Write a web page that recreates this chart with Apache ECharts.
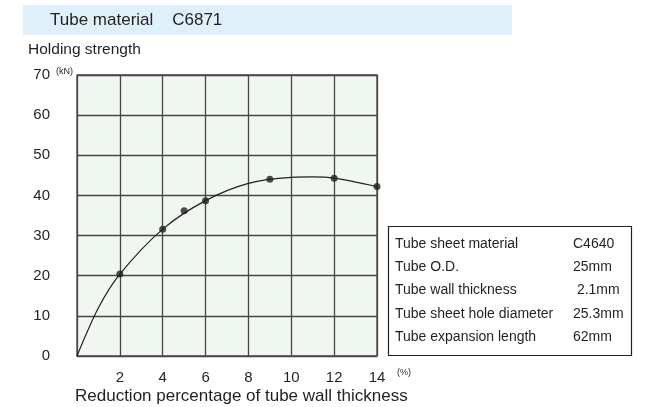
<!DOCTYPE html>
<html><head><meta charset="utf-8">
<script src="https://cdn.jsdelivr.net/npm/echarts@6/dist/echarts.min.js"></script>
<style>html,body{margin:0;padding:0;background:#fff}#c{width:650px;height:407px}</style>
</head><body><div id="c"></div>
<script>
const xTicks = [0, 2, 4, 6, 8, 10, 12, 14];
const yTicks = [0, 10, 20, 30, 40, 50, 60, 70];
const measured = [[2, 20.4], [4, 31.6], [5, 36.2], [6, 38.7], [9, 44.0], [12, 44.3], [14, 42.2]];
const curve = [[0, 0], [1, 12.0], [2, 20.4], [4, 31.6], [6, 38.7], [8, 43.0], [10, 44.5], [11, 44.6], [12, 44.3], [14, 42.2]];
const tableLabels = ['Tube sheet material', 'Tube O.D.', 'Tube wall thickness', 'Tube sheet hole diameter', 'Tube expansion length'];
const tableValues = ['C4640', '25mm', ' 2.1mm', '25.3mm', '62mm'];

const F = '"Liberation Sans", Arial, Helvetica, sans-serif';
const C = '#231f20';
const chart = echarts.init(document.getElementById('c'));
const graphics = [
  {type:'rect', shape:{x:23, y:5, width:489, height:30}, style:{fill:'#dff0fa'}, z:0},
  {type:'text', x:50, y:20, style:{text:'Tube material    C6871', font:'17px '+F, fill:C, textVerticalAlign:'middle'}},
  {type:'text', x:28, y:50, style:{text:'Holding strength', font:'15.5px '+F, fill:C, textVerticalAlign:'middle'}},
  {type:'text', x:56, y:72, style:{text:'(kN)', font:'9px '+F, fill:C, textVerticalAlign:'middle'}},
  {type:'text', x:397, y:373, style:{text:'(%)', font:'9px '+F, fill:C, textVerticalAlign:'middle'}},
  {type:'text', x:75, y:396, style:{text:'Reduction percentage of tube wall thickness', font:'17px '+F, fill:C, textVerticalAlign:'middle'}},
  {type:'rect', shape:{x:388.5, y:226.5, width:243, height:129}, style:{fill:'#fff', stroke:C, lineWidth:1.2}, z:10}
];
tableLabels.forEach((t, i) => {
  graphics.push({type:'text', x:395, y:244 + i*23.3, z:11, style:{text:t, font:'14px '+F, fill:C, textVerticalAlign:'middle'}});
  graphics.push({type:'text', x:573, y:244 + i*23.3, z:11, style:{text:tableValues[i], font:'14px '+F, fill:C, textVerticalAlign:'middle'}});
});

chart.setOption({
  animation:false,
  grid:{left:77, right:273, top:75, bottom:51, show:true, backgroundColor:'#eff7f0', borderColor:'#4a4546', borderWidth:1.3},
  xAxis:{type:'value', min:0, max:14, interval:2,
    axisLine:{show:false}, axisTick:{show:false},
    splitLine:{show:true, lineStyle:{color:'#4a4546', width:1.3}},
    axisLabel:{margin:14, fontSize:15, fontFamily:F, color:C, formatter:v => v === 0 ? '' : String(v)}},
  yAxis:{type:'value', min:0, max:70, interval:10,
    axisLine:{show:false}, axisTick:{show:false},
    splitLine:{show:true, lineStyle:{color:'#4a4546', width:1.3}},
    axisLabel:{margin:27, fontSize:15, fontFamily:F, color:C}},
  graphic:graphics,
  series:[
    {type:'line', data:curve, smooth:0.3, symbol:'none', lineStyle:{color:C, width:1.2}, z:3},
    {type:'scatter', data:measured, symbol:'circle', symbolSize:7, itemStyle:{color:C}, z:4}
  ]
});
</script></body></html>
